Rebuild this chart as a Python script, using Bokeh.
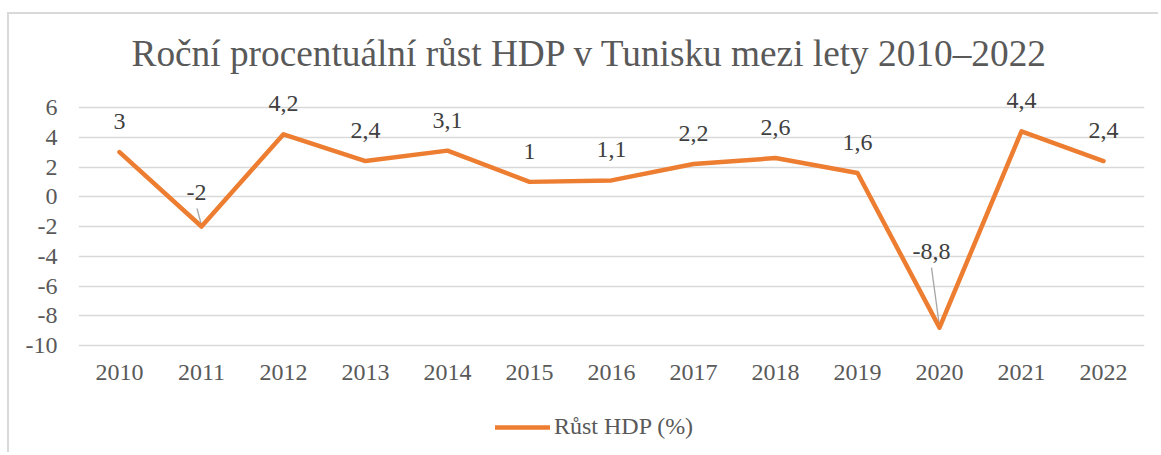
from bokeh.plotting import figure
from bokeh.models import (Range1d, FixedTicker, LabelSet, ColumnDataSource, Legend,
                          LegendItem, Title)
from bokeh.core.properties import value
from bokeh.embed import file_html
from bokeh.resources import INLINE

# ---- data ----
years = [2010, 2011, 2012, 2013, 2014, 2015, 2016, 2017, 2018, 2019, 2020, 2021, 2022]
growth = [3, -2, 4.2, 2.4, 3.1, 1, 1.1, 2.2, 2.6, 1.6, -8.8, 4.4, 2.4]
growth_labels = ["3", "-2", "4,2", "2,4", "3,1", "1", "1,1", "2,2", "2,6", "1,6", "-8,8", "4,4", "2,4"]
y_ticks = [-10, -8, -6, -4, -2, 0, 2, 4, 6]
title_text = "Roční procentuální růst HDP v Tunisku mezi lety 2010–2022"
series_name = "Růst HDP (%)"

# ---- styles / layout ----
ORANGE = "#ED7D31"
TEXT = "#595959"
LABEL = "#404040"
GRID = "#d9d9d9"
FONT = "Liberation Serif"

W, H = 1151, 440
ML, MR, MT = 69, 16, 66
GRID_TOP, GRID_BOTTOM = 93, 331          # canvas px of y=6 and y=-10
px_y = (GRID_BOTTOM - GRID_TOP) / 16.0
px_x = (W - ML - MR) / 13.0
y_end = 6 + (GRID_TOP - MT) / px_y
y_start = -10 - (H - GRID_BOTTOM) / px_y

label_dx = [0, -5, 0, 0, 0, 0, 0, 0, 0, 0, -8, 0, 0]
label_dy = [23, 27, 23, 23, 23, 23, 23, 23, 23, 23, 69, 23, 23]

p = figure(width=W, height=H,
           x_range=Range1d(2009.5, 2022.5), y_range=Range1d(y_start, y_end),
           output_backend="svg", toolbar_location=None,
           min_border_left=ML, min_border_right=MR,
           min_border_top=MT, min_border_bottom=0)
p.margin = (12, 0, 0, 7)
p.styles = {"border-top": "2px solid #d9d9d9", "border-left": "2px solid #d9d9d9"}
p.outline_line_color = None
p.background_fill_color = "white"
p.border_fill_color = "white"

p.title = Title(text=title_text, align="left", offset=53, standoff=13,
                text_font=FONT, text_font_size="37.3px", text_color=TEXT,
                text_font_style="normal")

p.xgrid.visible = False
p.ygrid.grid_line_color = GRID
p.ygrid.grid_line_width = 1.3
p.ygrid.ticker = FixedTicker(ticks=y_ticks)

p.yaxis.ticker = FixedTicker(ticks=y_ticks)
p.yaxis.major_label_overrides = {t: str(t) for t in y_ticks}
p.xaxis.ticker = FixedTicker(ticks=years)
p.xaxis.major_label_overrides = {y: str(y) for y in years}
p.xaxis.fixed_location = -10
for ax in (p.xaxis, p.yaxis):
    ax.axis_line_color = None
    ax.major_tick_line_color = None
    ax.minor_tick_line_color = None
    ax.major_tick_out = 0
    ax.major_tick_in = 0
    ax.minor_tick_out = 0
    ax.minor_tick_in = 0
    ax.major_label_text_font = FONT
    ax.major_label_text_font_size = "24px"
    ax.major_label_text_color = TEXT
p.yaxis.major_label_standoff = 21
p.xaxis.major_label_standoff = 19

src = ColumnDataSource(dict(year=years, growth=growth, label=growth_labels,
                            dx=label_dx, dy=label_dy))

lead_idx = [1, 10]
lead_start = {1: (-4.5, 18), 10: (-8, 60)}
x0 = [years[i] + lead_start[i][0] / px_x for i in lead_idx]
y0 = [growth[i] + lead_start[i][1] / px_y for i in lead_idx]
x1 = [years[i] for i in lead_idx]
y1 = [growth[i] + 1 / px_y for i in lead_idx]
p.segment(x0=x0, y0=y0, x1=x1, y1=y1, line_color="#a6a6a6", line_width=1.3)

r = p.line(x="year", y="growth", source=src, line_color=ORANGE, line_width=4.5,
           line_join="round", line_cap="round")

labels = LabelSet(x="year", y="growth", text="label", source=src,
                  x_offset="dx", y_offset="dy",
                  text_align="center", text_baseline="alphabetic",
                  text_font=value(FONT), text_font_size="24px", text_color=LABEL)
p.add_layout(labels)

legend = Legend(items=[LegendItem(label=series_name, renderers=[r])],
                location=(417, 14), orientation="horizontal",
                glyph_width=55, glyph_height=20, label_standoff=4,
                padding=0, margin=0, spacing=0,
                border_line_color=None, background_fill_alpha=0,
                label_text_font=FONT, label_text_font_size="24px",
                label_text_color=TEXT)
p.add_layout(legend)

open("out.html", "w").write(file_html(p, INLINE))
